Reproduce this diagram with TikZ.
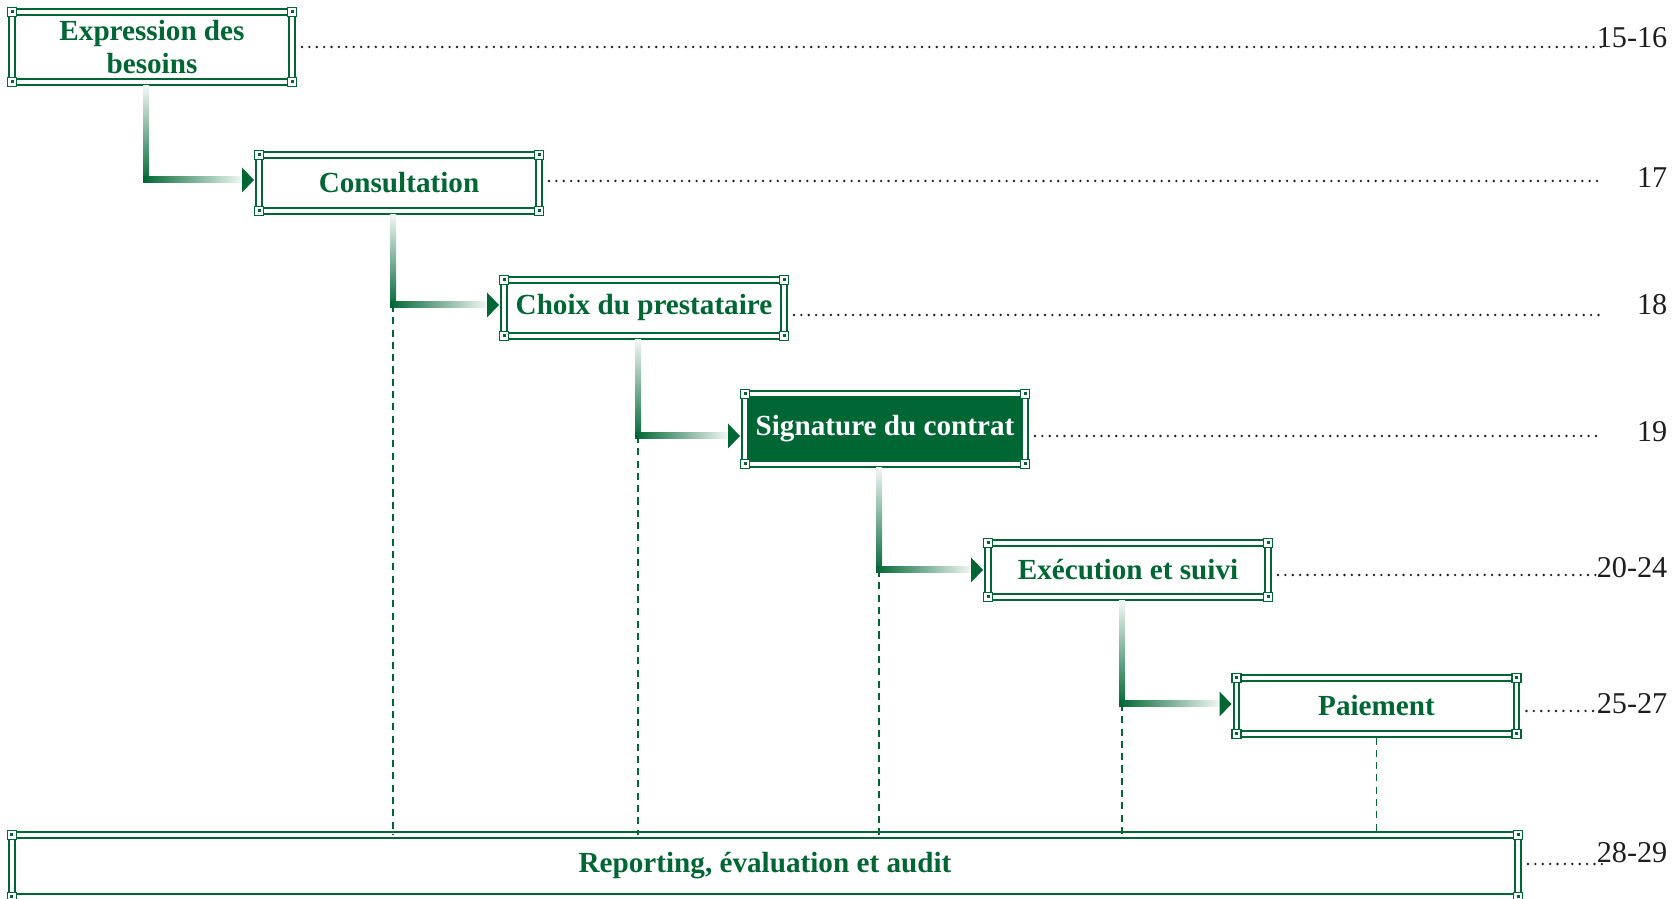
\documentclass[tikz,border=0pt]{standalone}
\usepackage{fontspec}
\setmainfont{Liberation Serif}
\usetikzlibrary{calc}
\definecolor{tgreen}{RGB}{0,102,51}
\definecolor{numgray}{RGB}{30,30,30}
\newcommand\flowstep[3][0]{%
  \coordinate (#2-turn) at ($(#2.south |- #3.west)+(-0.06,#1)$);
  \shade[top color=tgreen!5, bottom color=tgreen] ($(#2.south)+(-0.09,-0.035)$) rectangle ($(#2-turn)+(0.03,-0.03)$);
  \shade[left color=tgreen, right color=tgreen!5] ($(#2-turn)+(-0.03,-0.03)$) rectangle ($(#3.west)+(-0.17,#1+0.03)$);
  \fill[tgreen] ($(#3.west)+(-0.05,#1)$) -- ++(-0.12,0.125) -- ++(0,-0.25) -- cycle;
}
\begin{document}
\begin{tikzpicture}[
  stage/.style={draw=tgreen, double=white, double distance=0.9pt, line width=0.6pt, text=tgreen, font=\bfseries\fontsize{8.3}{9.6}\selectfont, align=center, inner sep=0pt, outer sep=0pt, minimum width=2.8cm},
  stagedark/.style={stage, fill=tgreen, text=white},
  cornermark/.style={draw=tgreen, line width=0.45pt, fill=white},
  leader/.style={numgray, line width=0.75pt, line cap=round, dash pattern=on 0pt off 2.1pt},
  guide/.style={tgreen, line width=0.55pt, dash pattern=on 2pt off 1.5pt},
  weeks/.style={text=numgray, font=\fontsize{8.6}{10}\selectfont, anchor=base east, inner sep=0pt}
]
\useasboundingbox (0,0) rectangle (16.75,8.99);

\node[stage,minimum height=0.7cm] (besoins) at (1.52,8.52) {Expression des\\besoins};
\node[stage,minimum height=0.56cm] (consult) at (3.99,7.16) {Consultation};
\node[stage,minimum height=0.56cm] (choix) at (6.44,5.91) {Choix du prestataire};
\node[stagedark,minimum height=0.7cm] (signature) at (8.85,4.70) {Signature du contrat};
\node[stage,minimum height=0.54cm] (execution) at (11.28,3.29) {Ex\'ecution et suivi};
\node[stage,minimum height=0.56cm] (paiement) at (13.765,1.93) {Paiement};
\node[stage,minimum height=0.62cm,minimum width=15.06cm] (reporting) at (7.65,0.33) {Reporting, \'evaluation et audit};

\foreach \n in {besoins,consult,choix,signature,execution,paiement,reporting}
  \foreach \c in {north west,north east,south west,south east} {
    \draw[cornermark] ($(\n.\c)+(-0.045,-0.045)$) rectangle +(0.09,0.09);
    \fill[tgreen] ($(\n.\c)+(-0.015,-0.015)$) rectangle +(0.03,0.03);
  }

\flowstep[0.03]{besoins}{consult}
\flowstep[0.03]{consult}{choix}
\flowstep[-0.07]{choix}{signature}
\flowstep{signature}{execution}
\flowstep[0.02]{execution}{paiement}

\draw[guide] (consult-turn) -- (consult-turn |- reporting.north);
\draw[guide] (choix-turn) -- (choix-turn |- reporting.north);
\draw[guide] (signature-turn) -- (signature-turn |- reporting.north);
\draw[guide] (execution-turn) -- (execution-turn |- reporting.north);
\draw[guide] ($(paiement.south)+(0,-0.035)$) -- (paiement.south |- reporting.north);

\coordinate (dotend) at (16.02,0);
\coordinate (numcol) at (16.68,0);

\node[weeks] (w1) at ($(besoins.east -| numcol)+(0,-0.01)$) {15-16};
\node[weeks] (w2) at ($(consult.east -| numcol)+(0,-0.05)$) {17};
\node[weeks] (w3) at ($(choix.east -| numcol)+(0,-0.07)$) {18};
\node[weeks] (w4) at ($(signature.east -| numcol)+(0,-0.125)$) {19};
\node[weeks] (w5) at ($(execution.east -| numcol)+(0,-0.08)$) {20-24};
\node[weeks] (w6) at ($(paiement.east -| numcol)+(0,-0.08)$) {25-27};
\node[weeks] (w7) at ($(reporting.east -| numcol)+(0,0.03)$) {28-29};

\draw[leader] ($(besoins.east)+(0.1,0)$) -- (besoins.east -| dotend);
\draw[leader] ($(consult.east)+(0.1,0.02)$) -- ($(consult.east -| dotend)+(0,0.02)$);
\draw[leader] ($(choix.east)+(0.1,-0.07)$) -- ($(choix.east -| dotend)+(0,-0.07)$);
\draw[leader] ($(signature.east)+(0.1,-0.07)$) -- ($(signature.east -| dotend)+(0,-0.07)$);
\draw[leader] ($(execution.east)+(0.1,-0.05)$) -- ($(execution.east -| dotend)+(0,-0.05)$);
\draw[leader] ($(paiement.east)+(0.1,-0.05)$) -- ($(paiement.east -| dotend)+(0,-0.05)$);
\draw[leader] ($(reporting.east)+(0.1,0.02)$) -- ($(reporting.east -| dotend)+(0,0.02)$);

\end{tikzpicture}
\end{document}
